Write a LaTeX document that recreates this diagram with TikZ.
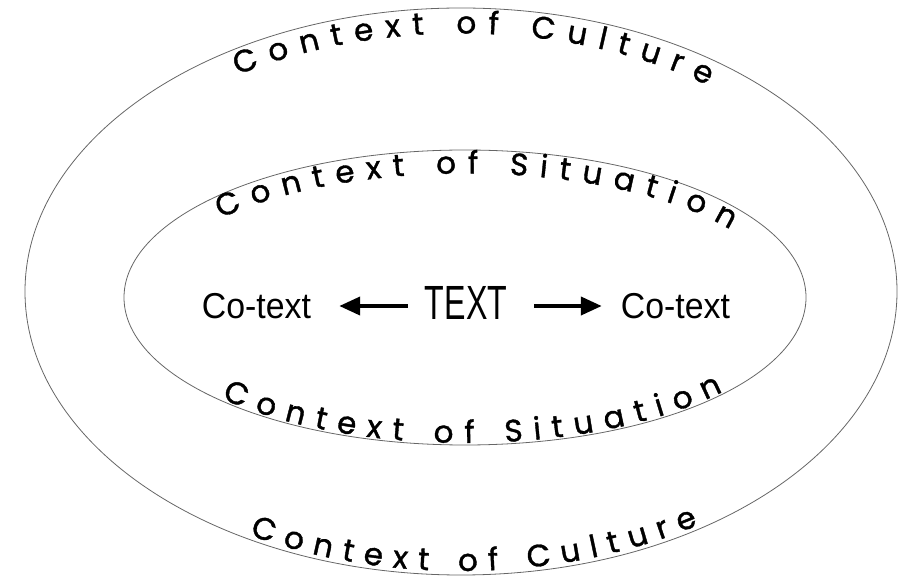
\documentclass[tikz,border=0pt]{standalone}
\usepackage{fontspec}
\setmainfont{Liberation Sans}
\newfontfamily\curvefont{Poppins}[FakeBold=1.2]
\usepackage{tikz}
\usetikzlibrary{decorations.text,arrows.meta}

\begin{document}
\begin{tikzpicture}[x=1pt,y=1pt,
  ring/.style={draw=black!60, line width=0.8pt},
  curved/.style 2 args={decorate, decoration={text along path, text align=fit to path, raise=#2, text={|\curvefont\fontsize{31}{31}\selectfont|#1}}},
  word/.style={inner sep=0pt, anchor=base},
  arr/.style={line width=4pt, -{Triangle[length=21pt,width=18pt]}}]
\useasboundingbox (0,0) rectangle (912,578);
\draw[ring] (461,286.5) ellipse [x radius=436, y radius=283.5];
\draw[ring] (465,280.5) ellipse [x radius=341, y radius=147.5];
\path[curved={Context of Culture}{0pt}] (461,286.5) ++(123:410 and 258) arc [start angle=123, end angle=53, x radius=410, y radius=258];
\path[curved={Context of Culture}{4pt}] (461,286.5) ++(240.8:436 and 283.5) arc [start angle=240.8, end angle=303.2, x radius=436, y radius=283.5];
\path[curved={Context of Situation}{0pt}] (465,280.5) ++(140.4:317 and 124) arc [start angle=140.4, end angle=33.2, x radius=317, y radius=124];
\path[curved={Context of Situation}{2pt}] (465,280.5) ++(224.3:341 and 147.5) arc [start angle=224.3, end angle=319.4, x radius=341, y radius=147.5];
\node[word] (text) at (466,258) {\fontsize{48}{48}\selectfont\scalebox{0.67}[1]{TEXT}};
\node[word] (lcotext) at (256.5,259.6) {\fontsize{36}{36}\selectfont\scalebox{0.94}[1]{Co-text}};
\node[word] (rcotext) at (675.5,259.6) {\fontsize{36}{36}\selectfont\scalebox{0.94}[1]{Co-text}};
\draw[arr, shorten <=17pt, shorten >=28pt] (lcotext.east -| text.west) -- (lcotext.east);
\draw[arr, shorten <=27pt, shorten >=19pt] (rcotext.west -| text.east) -- (rcotext.west);
\end{tikzpicture}
\end{document}
